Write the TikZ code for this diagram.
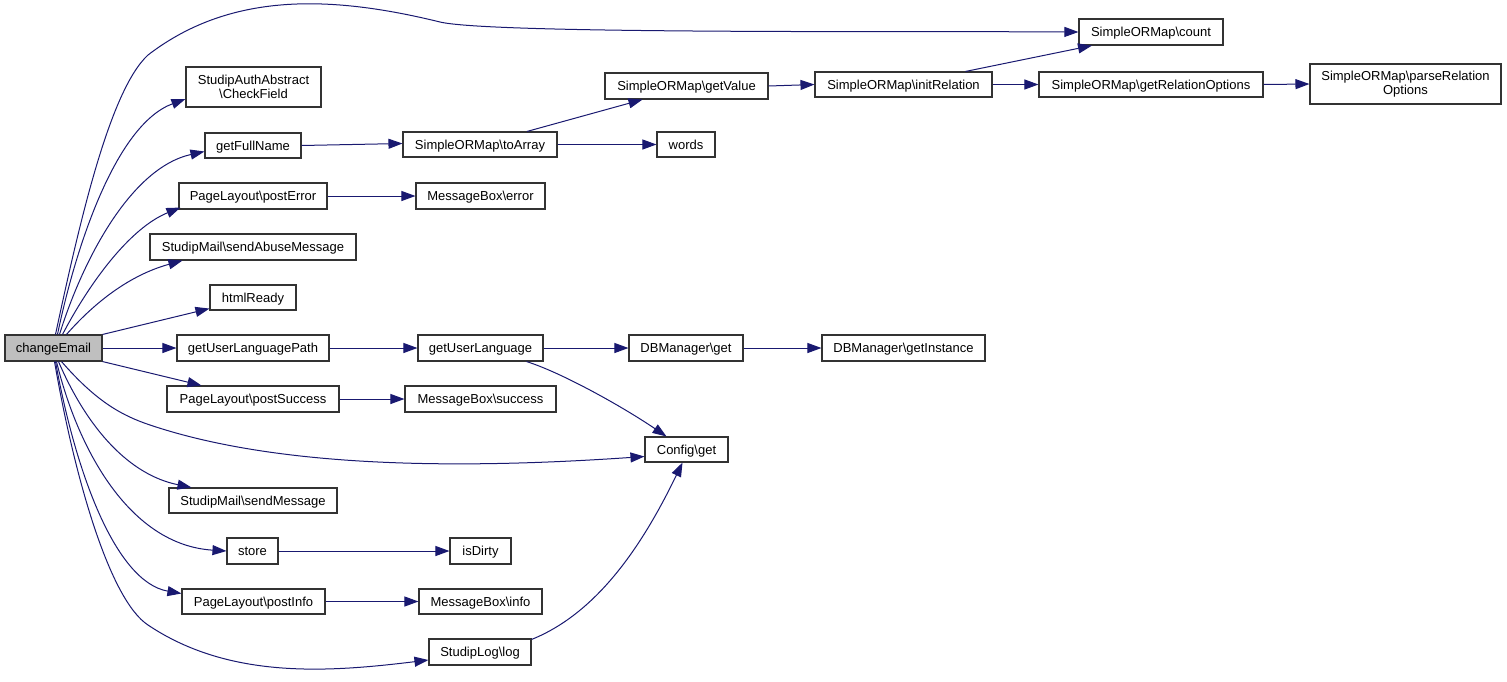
\documentclass[tikz,border=0pt]{standalone}
\usepackage{fontspec}
\setmainfont{Liberation Sans}
\usetikzlibrary{arrows.meta}
\definecolor{edgeblue}{HTML}{191970}
\definecolor{boxline}{HTML}{333333}
\definecolor{rootfill}{HTML}{BFBFBF}
\tikzset{
  fn2/.style={draw=boxline, line width=1.1pt, fill=white, inner sep=0pt, align=center,
    font=\fontsize{13}{14.5}\selectfont},
  fn/.style={fn2, text height=11.5pt, text depth=2.5pt},
  root/.style={fn, fill=rootfill},
  call/.style={draw=edgeblue, line width=1pt, -{Triangle[length=14pt,width=10pt]}, fill=none},
}
\begin{document}
\begin{tikzpicture}[x=1pt,y=-1pt]
\useasboundingbox (0,0) rectangle (1507,681);
% nodes
\node[root, minimum width=97pt, minimum height=26pt] (ce) at (53.5,348) {changeEmail};
\node[fn2, minimum width=135pt, minimum height=40pt] (cf) at (253.5,87) {StudipAuthAbstract\\\textbackslash CheckField};
\node[fn, minimum width=96pt, minimum height=25pt] (gfn) at (253,145.5) {getFullName};
\node[fn, minimum width=148pt, minimum height=26pt] (pe) at (253,196) {PageLayout\textbackslash postError};
\node[fn, minimum width=206pt, minimum height=26pt] (sam) at (253,247) {StudipMail\textbackslash sendAbuseMessage};
\node[fn, minimum width=86pt, minimum height=25pt] (hr) at (253,297.5) {htmlReady};
\node[fn, minimum width=152pt, minimum height=26pt] (ulp) at (253,348) {getUserLanguagePath};
\node[fn, minimum width=172pt, minimum height=26pt] (ps) at (253,399) {PageLayout\textbackslash postSuccess};
\node[fn, minimum width=168pt, minimum height=25pt] (sm) at (253,500.5) {StudipMail\textbackslash sendMessage};
\node[fn, minimum width=51pt, minimum height=26pt] (st) at (252.5,551) {store};
\node[fn, minimum width=143pt, minimum height=25pt] (pi) at (253.5,601.5) {PageLayout\textbackslash postInfo};
\node[fn, minimum width=163pt, minimum height=26pt] (gv) at (686.5,86) {SimpleORMap\textbackslash getValue};
\node[fn, minimum width=154pt, minimum height=25pt] (ta) at (480,144.5) {SimpleORMap\textbackslash toArray};
\node[fn, minimum width=58pt, minimum height=25pt] (wd) at (686,144.5) {words};
\node[fn, minimum width=129pt, minimum height=26pt] (err) at (480.5,196) {MessageBox\textbackslash error};
\node[fn, minimum width=125pt, minimum height=26pt] (ul) at (480.5,348) {getUserLanguage};
\node[fn, minimum width=114pt, minimum height=26pt] (dbg) at (686,348) {DBManager\textbackslash get};
\node[fn, minimum width=151pt, minimum height=26pt] (suc) at (480.5,399) {MessageBox\textbackslash success};
\node[fn, minimum width=83pt, minimum height=25pt] (cfg) at (686.5,449.5) {Config\textbackslash get};
\node[fn, minimum width=61pt, minimum height=26pt] (dirty) at (480.5,551) {isDirty};
\node[fn, minimum width=123pt, minimum height=25pt] (info) at (480.5,601.5) {MessageBox\textbackslash info};
\node[fn, minimum width=102pt, minimum height=26pt] (log) at (480,652) {StudipLog\textbackslash log};
\node[fn, minimum width=144pt, minimum height=26pt] (cnt) at (1151,32) {SimpleORMap\textbackslash count};
\node[fn, minimum width=177pt, minimum height=25pt] (ir) at (903.5,84.5) {SimpleORMap\textbackslash initRelation};
\node[fn, minimum width=224pt, minimum height=25pt] (gro) at (1151,84.5) {SimpleORMap\textbackslash getRelationOptions};
\node[fn2, minimum width=191pt, minimum height=40pt] (pro) at (1405.5,84) {SimpleORMap\textbackslash parseRelation\\Options};
\node[fn, minimum width=163pt, minimum height=26pt] (gi) at (903.5,348) {DBManager\textbackslash getInstance};
% edges from changeEmail (upwards)
\draw[call] ([xshift=2pt]ce.north) .. controls (80,220) and (110,90) .. (148,55)
  .. controls (230,-8) and (330,-5) .. (440,22)
  .. controls (490,34) and (900,31) .. (cnt.west);
\draw[call] ([xshift=4pt]ce.north) .. controls (75,250) and (115,125) .. ([yshift=-12pt]cf.west);
\draw[call] ([xshift=6pt]ce.north) .. controls (82,262) and (130,168) .. ([yshift=-6pt]gfn.west);
\draw[call] ([xshift=9pt]ce.north) .. controls (90,282) and (130,228) .. ([xshift=2pt,yshift=2pt]pe.south west);
\draw[call] ([xshift=13pt]ce.north) .. controls (95,302) and (130,275) .. ([xshift=33pt]sam.south west);
\draw[call] (ce.north east) -- ([yshift=2pt]hr.south west);
\draw[call] (ce.east) -- (ulp.west);
\draw[call] (ce.south east) -- ([xshift=35pt]ps.north west);
% edges from changeEmail (downwards)
\draw[call] ([xshift=8pt]ce.south) .. controls (95,400) and (120,415) .. (150,425)
  .. controls (260,462) and (420,472) .. ([yshift=-7pt]cfg.west);
\draw[call] ([xshift=5pt]ce.south) .. controls (88,430) and (130,475) .. ([xshift=23pt]sm.north west);
\draw[call] ([xshift=3pt]ce.south) .. controls (78,450) and (130,545) .. (st.west);
\draw[call] ([xshift=2pt]ce.south) .. controls (75,470) and (115,582) .. ([yshift=8pt]pi.west);
\draw[call] ([xshift=1pt]ce.south) .. controls (75,480) and (110,600) .. (148,625)
  .. controls (230,680) and (330,672) .. ([yshift=-8pt]log.west);
% other edges
\draw[call] (gfn.east) -- ([yshift=1pt]ta.west);
\draw[call] ([xshift=47pt]ta.north) -- ([xshift=-44pt]gv.south);
\draw[call] (ta.east) -- (wd.west);
\draw[call] (pe.east) -- (err.west);
\draw[call] (gv.east) -- (ir.west);
\draw[call] ([xshift=62pt]ir.north) -- ([xshift=-59pt]cnt.south);
\draw[call] (ir.east) -- (gro.west);
\draw[call] (gro.east) -- (pro.west);
\draw[call] (ulp.east) -- (ul.west);
\draw[call] (ul.east) -- (dbg.west);
\draw[call] (dbg.east) -- (gi.west);
\draw[call] ([xshift=46pt]ul.south) .. controls (560,372) and (620,405) .. ([xshift=-20pt]cfg.north);
\draw[call] (ps.east) -- (suc.west);
\draw[call] (st.east) -- (dirty.west);
\draw[call] (pi.east) -- (info.west);
\draw[call] ([yshift=-1pt]log.north east) .. controls (600,612) and (645,540) .. ([xshift=-4pt]cfg.south);
\end{tikzpicture}
\end{document}
